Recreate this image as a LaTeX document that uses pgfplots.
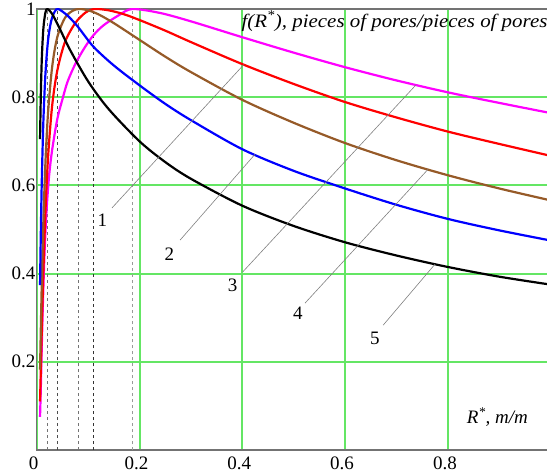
\documentclass[border=0pt]{standalone}
\usepackage{fontspec}
\setmainfont{Liberation Serif}
\usepackage{pgfplots}
\pgfplotsset{compat=1.18}
\definecolor{gridG}{RGB}{100,230,100}
\definecolor{brownC}{RGB}{150,90,40}
\definecolor{magC}{RGB}{255,0,255}
\newcommand{\fs}{\fontsize{19bp}{21bp}\selectfont}

\begin{document}
\begin{tikzpicture}
\begin{axis}[
  name=ax, scale only axis,
  width=514bp, height=441bp,
  xmin=0, xmax=1, ymin=0, ymax=1,
  xtick={0,0.2,0.4,0.6,0.8}, ytick={0.2,0.4,0.6,0.8,1},
  grid=major,
  major grid style={draw=gridG, line width=2bp},
  axis line style={draw=black!55, line width=1.2bp},
  major tick length=0pt,
  ticklabel style={font=\fs, /pgf/number format/assume math mode=true},
  xticklabel style={yshift=-3bp, xshift=-3bp},
  yticklabel style={inner xsep=1bp},
  every axis plot/.append style={line width=2.2bp, smooth, tension=0.5},
]
% peak positions
\addplot[black!55, dashed, line width=0.7bp, sharp plot] coordinates {(0.021,0) (0.021,1)};
\addplot[black!70, dashed, line width=0.7bp, sharp plot] coordinates {(0.041,0) (0.041,1)};
\addplot[black!55, dashed, line width=0.7bp, sharp plot] coordinates {(0.082,0) (0.082,1)};
\addplot[black!80, dashed, line width=0.7bp, sharp plot] coordinates {(0.111,0) (0.111,1)};
\addplot[black!40, dashed, line width=0.7bp, sharp plot] coordinates {(0.186,0) (0.186,1)};

% curve 3 (magenta)
\addplot[magC] coordinates {
 (0.0065,0.075) (0.008,0.140) (0.010,0.240) (0.012,0.330) (0.015,0.440)
 (0.019,0.540) (0.024,0.620) (0.030,0.680) (0.040,0.750) (0.050,0.795)
 (0.060,0.835) (0.075,0.875) (0.092,0.910) (0.110,0.940) (0.130,0.963)
 (0.160,0.986) (0.186,1.000) (0.240,0.991) (0.300,0.972) (0.400,0.936)
 (0.500,0.901) (0.600,0.868) (0.700,0.838) (0.800,0.811) (0.900,0.787) (1.000,0.764)};
% curve 1 (red)
\addplot[red] coordinates {
 (0.0065,0.110) (0.008,0.180) (0.010,0.276) (0.013,0.404) (0.017,0.540)
 (0.022,0.662) (0.030,0.780) (0.040,0.860) (0.055,0.925) (0.075,0.968)
 (0.095,0.992) (0.112,1.000) (0.140,0.997) (0.170,0.988) (0.200,0.975)
 (0.250,0.951) (0.300,0.925) (0.400,0.875) (0.500,0.830) (0.600,0.789)
 (0.700,0.754) (0.800,0.722) (0.900,0.694) (1.000,0.667)};
% curve 4 (brown)
\addplot[brownC] coordinates {
 (0.0065,0.182) (0.008,0.273) (0.010,0.383) (0.013,0.519) (0.017,0.652)
 (0.022,0.763) (0.030,0.868) (0.040,0.936) (0.055,0.980) (0.070,0.996)
 (0.083,1.000) (0.100,0.997) (0.120,0.988) (0.150,0.968) (0.200,0.930)
 (0.250,0.892) (0.300,0.857) (0.400,0.794) (0.500,0.742) (0.600,0.696)
 (0.700,0.657) (0.800,0.623) (0.900,0.593) (1.000,0.566)};
% curve 2 (blue)
\addplot[blue] coordinates {
 (0.0065,0.374) (0.008,0.491) (0.010,0.615) (0.013,0.746) (0.017,0.853)
 (0.022,0.928) (0.028,0.972) (0.035,0.994) (0.042,1.000) (0.060,0.985)
 (0.080,0.960) (0.110,0.915) (0.150,0.872) (0.200,0.827) (0.250,0.785)
 (0.300,0.748) (0.400,0.682) (0.500,0.633) (0.600,0.593) (0.700,0.556)
 (0.800,0.524) (0.900,0.498) (1.000,0.475)};
% curve 5 (black)
\addplot[black] coordinates {
 (0.0065,0.705) (0.008,0.804) (0.010,0.889) (0.013,0.956) (0.017,0.992)
 (0.021,1.000) (0.030,0.989) (0.045,0.955) (0.065,0.907) (0.100,0.836)
 (0.140,0.773) (0.200,0.700) (0.250,0.653) (0.300,0.615) (0.400,0.554)
 (0.500,0.508) (0.600,0.471) (0.700,0.441) (0.800,0.415) (0.900,0.393) (1.000,0.375)};

% leader lines
\addplot[black!50, line width=0.6bp, sharp plot] coordinates {(0.1465,0.549) (0.403,0.874)};
\addplot[black!50, line width=0.6bp, sharp plot] coordinates {(0.279,0.476) (0.425,0.671)};
\addplot[black!50, line width=0.6bp, sharp plot] coordinates {(0.401,0.404) (0.738,0.828)};
\addplot[black!50, line width=0.6bp, sharp plot] coordinates {(0.522,0.333) (0.761,0.636)};
\addplot[black!50, line width=0.6bp, sharp plot] coordinates {(0.674,0.283) (0.775,0.4215)};

\node[font=\fs] at (axis cs:0.128,0.522) {1};
\node[font=\fs] at (axis cs:0.258,0.444) {2};
\node[font=\fs] at (axis cs:0.381,0.374) {3};
\node[font=\fs] at (axis cs:0.508,0.311) {4};
\node[font=\fs] at (axis cs:0.658,0.254) {5};

\node[font=\fs\itshape, anchor=base east, inner sep=0pt, xscale=1.1] at (axis cs:0.994,0.959)
  {f(R\textsuperscript{*}), pieces of pores/pieces of pores};
\node[font=\fs\itshape, anchor=base east, inner sep=0pt] at (axis cs:0.956,0.059)
  {R\textsuperscript{*}, m/m};
\end{axis}
\pgfresetboundingbox
\path (ax.south west) ++(-36.7bp,-24bp) rectangle ++(547bp,474bp);
\end{tikzpicture}
\end{document}
